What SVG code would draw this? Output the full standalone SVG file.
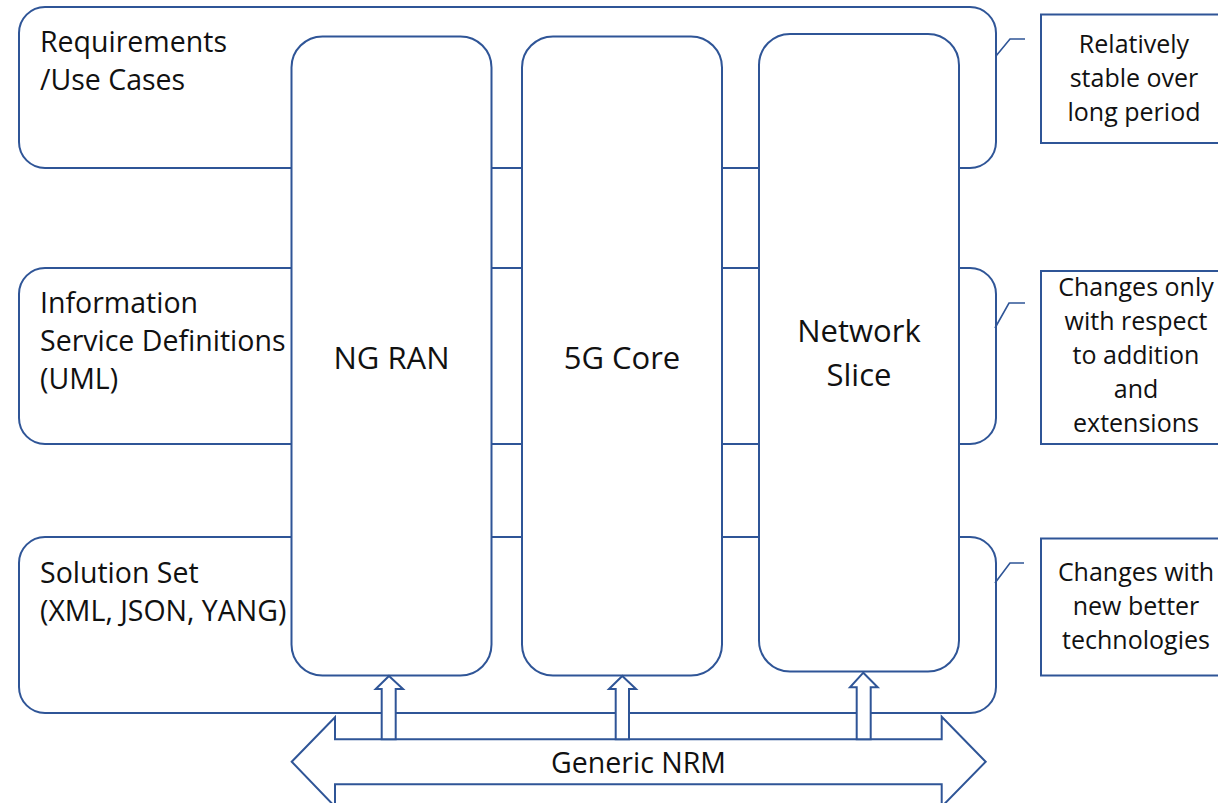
<svg xmlns="http://www.w3.org/2000/svg" width="1218" height="803" viewBox="0 0 1218 803">
<style>
.sh{fill:#fff;stroke:#2F5597;stroke-width:2}
.ln{fill:none;stroke:#2F5597;stroke-width:1.6}
.t{font-family:"Open Sans","Liberation Sans",sans-serif;fill:#111}
.l{font-size:28.5px}
.c{font-size:31px;text-anchor:middle}
.r{font-size:25px;text-anchor:middle}
</style>
<rect width="1218" height="803" fill="#fff"/>
<g id="band-requirements">
<rect class="sh" x="19" y="7" width="977" height="161" rx="26"/>
<text class="t l" x="40" y="52">Requirements</text>
<text class="t l" x="40" y="90">/Use Cases</text>
</g>
<g id="band-information">
<rect class="sh" x="19" y="268" width="977" height="176" rx="26"/>
<text class="t l" x="40" y="313">Information</text>
<text class="t l" x="40" y="351">Service Definitions</text>
<text class="t l" x="40" y="389">(UML)</text>
</g>
<g id="band-solution">
<rect class="sh" x="19" y="537" width="977" height="176" rx="26"/>
<text class="t l" x="40" y="583">Solution Set</text>
<text class="t l" x="40" y="621">(XML, JSON, YANG)</text>
</g>
<g id="col-ngran">
<rect class="sh" x="291.5" y="36.5" width="200" height="639" rx="31"/>
<text class="t c" x="391.5" y="369">NG RAN</text>
</g>
<g id="col-5gcore">
<rect class="sh" x="522" y="36.5" width="200" height="639" rx="31"/>
<text class="t c" x="622" y="369">5G Core</text>
</g>
<g id="col-slice">
<rect class="sh" x="759" y="34" width="200" height="637.5" rx="31"/>
<text class="t c" x="859" y="342">Network</text>
<text class="t c" x="859" y="386">Slice</text>
</g>
<g id="note-stable">
<rect class="sh" x="1041" y="14.5" width="190" height="128.5"/>
<text class="t r" x="1134" y="53">Relatively</text>
<text class="t r" x="1134" y="87">stable over</text>
<text class="t r" x="1134" y="121">long period</text>
</g>
<g id="note-changes-only">
<rect class="sh" x="1041" y="271" width="190" height="173"/>
<text class="t r" x="1136" y="296">Changes only</text>
<text class="t r" x="1136" y="330">with respect</text>
<text class="t r" x="1136" y="364">to addition</text>
<text class="t r" x="1136" y="398">and</text>
<text class="t r" x="1136" y="432">extensions</text>
</g>
<g id="note-changes-with">
<rect class="sh" x="1041" y="538.5" width="190" height="137"/>
<text class="t r" x="1136" y="581">Changes with</text>
<text class="t r" x="1136" y="615">new better</text>
<text class="t r" x="1136" y="649">technologies</text>
</g>
<g id="generic-nrm">
<polygon class="sh" points="291.7,761.7 335,717.3 335,739.3 941.7,739.3 941.7,716.7 985.7,761.7 941.7,806.7 941.7,784.3 335,784.3 335,806.7"/>
<text class="t l" x="638.5" y="773" text-anchor="middle">Generic NRM</text>
</g>
<g id="connectors">
<polygon class="sh" points="389,676 403,689 395.7,689 395.7,739.3 381.7,739.3 381.7,689 375.7,689"/>
<polygon class="sh" points="622.3,676 636,689 629,689 629,739.3 615.7,739.3 615.7,689 609,689"/>
<polygon class="sh" points="863.3,672.7 877.7,687.3 870.7,687.3 870.7,739.3 856.7,739.3 856.7,687.3 850,687.3"/>
<polyline class="ln" points="996,56 1010,39 1025,39"/>
<polyline class="ln" points="995,328 1009,303 1025,303"/>
<polyline class="ln" points="995,583 1010,563 1024,563"/>
</g>
</svg>
